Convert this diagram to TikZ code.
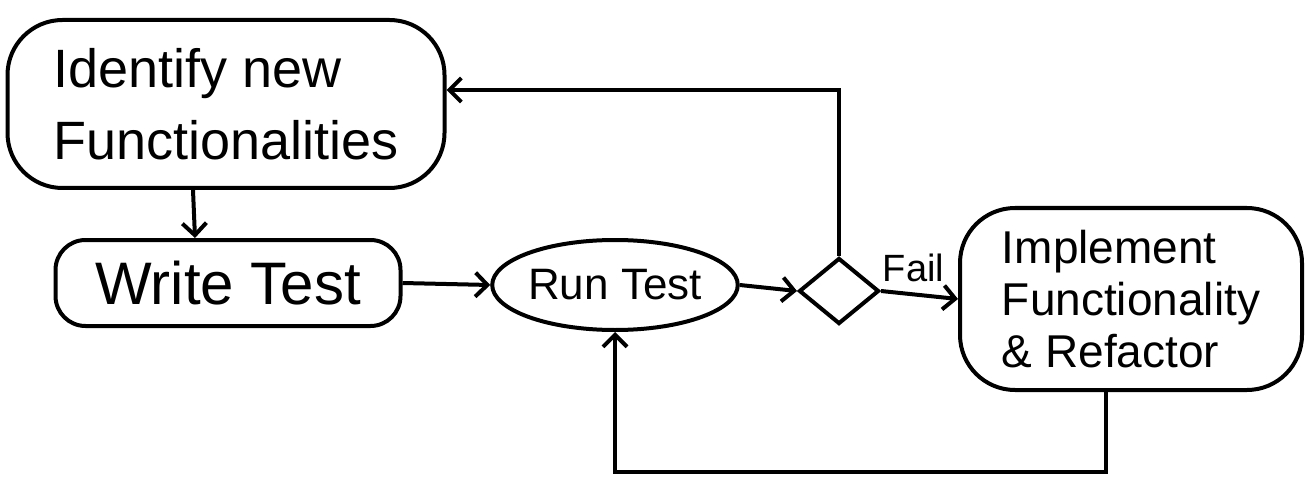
\documentclass[tikz,border=0pt]{standalone}
\usepackage{fontspec}
\setmainfont{Liberation Sans}
\usetikzlibrary{shapes.geometric,arrows.meta,positioning,calc}

\begin{document}
\begin{tikzpicture}[
  x=1pt, y=-1pt,
  every node/.style={font=\fontsize{54}{72}\selectfont},
  blob/.style={draw=black, line width=4pt, rounded corners=55pt,
               align=left, inner sep=6pt},
  runnode/.style={draw=black, ellipse, line width=4pt, inner sep=0pt,
                  minimum width=222pt, minimum height=90pt,
                  font=\fontsize{44}{50}\selectfont},
  decide/.style={draw=black, diamond, line width=4pt,
                 minimum width=80pt, minimum height=66pt, inner sep=0pt},
  flow/.style={draw=black, line width=4pt,
               -{Straight Barb[length=12pt,width=24pt,line width=4pt]}}
]
\useasboundingbox (0,0) rectangle (1311,481);

%% Steps
\node[blob, minimum width=437pt, minimum height=168pt] (ident) at (226,104)
  {Identify new\\Functionalities};
\node[blob, minimum width=345pt, minimum height=86pt, rounded corners=30pt,
      font=\fontsize{60}{66}\selectfont] (write) at (228,283) {Write Test};
\node[runnode] (run) at (615,285) {Run Test};
\node[decide] (check) at (839,291) {};
\node[blob, minimum width=342pt, minimum height=182pt,
      font=\fontsize{46}{52}\selectfont] (impl) at (1131,299)
  {Implement\\Functionality\\\& Refactor};

%% Main flow
\draw[flow] ([xshift=-33pt]ident.south) -- ([xshift=-33pt]write.north);
\draw[flow] (write.east) -- (run.west);
\draw[flow] (run.east) -- (check.west);
\draw[flow] (check.east) -- node[above=8pt, xshift=-6pt, font=\fontsize{38}{44}\selectfont] (fail) {Fail} (impl.west);

%% Loops back
\draw[flow] (check.north) |- ([yshift=14pt]ident.east);
\draw[flow] ([xshift=-25pt]impl.south) -- ++(0,80) -| (run.south);

\end{tikzpicture}
\end{document}
